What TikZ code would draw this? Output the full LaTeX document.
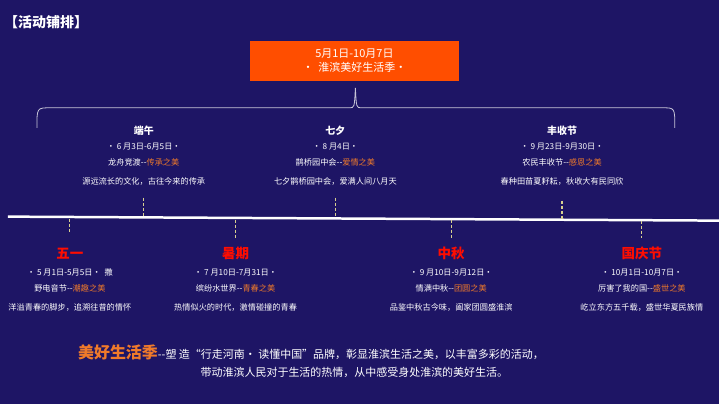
\documentclass[tikz,border=0pt]{standalone}
\usepackage{fontspec}
\setmainfont{Noto Sans CJK SC}
\definecolor{navy}{HTML}{1E1565}
\definecolor{boxorange}{HTML}{FF4E00}
\definecolor{accent}{HTML}{F07A2A}
\definecolor{tick}{HTML}{D8D090}
\begin{document}
\begin{tikzpicture}
		[x=1pt,y=-1pt,
		title/.style={font=\bfseries\fontsize{10}{11}\selectfont,text=white},
		redtitle/.style={font=\bfseries\fontsize{13.5}{14}\selectfont,text=red!90!orange},
		info/.style={font=\fontsize{8.2}{9}\selectfont,text=white},
		ticker/.style={tick,densely dashed,line width=1.1pt}]
		\fill[navy] (0,0) rectangle (720,405);
		\node[anchor=west,font=\bfseries\fontsize{14}{15}\selectfont,text=white,inner sep=0] (heading) at (4,22) {【活动铺排】};
		\node[fill=boxorange,minimum width=210,minimum height=40,align=center,text=white,
			font=\fontsize{11}{14}\selectfont] (season) at (355,61) {5月1日-10月7日\\· \ 淮滨美好生活季·};
		% brace
		\coordinate (peak) at (356,88);
		\draw[white!75!navy,line width=0.8pt] (37,128) .. controls (37,108) .. (50,108) -- (350,108)
			.. controls (355,108) .. (peak) .. controls (357,108) .. (362,108) -- (664,108)
			.. controls (676,108) .. (676,128);
		% timeline
		\coordinate (start) at (8,217);
		\coordinate (finish) at (720,221);
		\draw[white,line width=2.5pt] (start) -- (finish);
		\foreach \x/\ya/\yb in {144/198/216,336/198/217,563/201/219}
			\draw[ticker] (\x,\ya) -- (\x,\yb);
		\foreach \x/\ya/\yb in {70/219/233,236/220/238,452/220/238,643/221/238}
			\draw[ticker] (\x,\ya) -- (\x,\yb);
		% upper events
		\foreach \x/\name/\date/\act/\tag/\desc in
			{144/端午/6 月3日-6月5日/龙舟竞渡/传承之美/源远流长的文化，古往今来的传承,
			 336/七夕/8 月4日/鹊桥园中会/爱情之美/七夕鹊桥园中会，爱满人间八月天,
			 563/丰收节/9 月23日-9月30日/农民丰收节/感恩之美/春种田苗夏耔耘，秋收大有民同欣}
		{
			\node[title] at (\x,131) {\name};
			\node[info] at (\x,147) {· \date ·};
			\node[info] at (\x,163) {\act -{}-\textcolor{accent}{\tag}};
			\node[info] at (\x,182) {\desc};
		}
		% lower events
		\foreach \x/\name/\date/\act/\tag/\desc in
			{70/五一/5 月1日-5月5日· \ 撒/野电音节/潮趣之美/洋溢青春的脚步，追溯往昔的情怀,
			 236/暑期/7 月10日-7月31日·/缤纷水世界/青春之美/热情似火的时代，激情碰撞的青春,
			 452/中秋/9 月10日-9月12日·/情满中秋/团圆之美/品鉴中秋古今味，阖家团圆盛淮滨,
			 643/国庆节/10月1日-10月7日·/厉害了我的国/盛世之美/屹立东方五千载，盛世华夏民族情}
		{
			\node[redtitle] at (\x,254) {\name};
			\node[info] at (\x,273) {· \date};
			\node[info] at (\x,289) {\act -{}-\textcolor{accent}{\tag}};
			\node[info] at (\x,308) {\desc};
		}
		% summary
		\node[anchor=west,font=\fontsize{11}{13}\selectfont,text=white,inner sep=0] (summary) at (78,353)
			{{\bfseries\fontsize{16}{17}\selectfont\textcolor{accent}{美好生活季}}-{}-塑 造“行走河南· 读懂中国”品牌，彰显淮滨生活之美，以丰富多彩的活动，};
		\node[font=\fontsize{11}{13}\selectfont,text=white] (summary2) at (355,373)
			{带动淮滨人民对于生活的热情，从中感受身处淮滨的美好生活。};
	\end{tikzpicture}
\end{document}
